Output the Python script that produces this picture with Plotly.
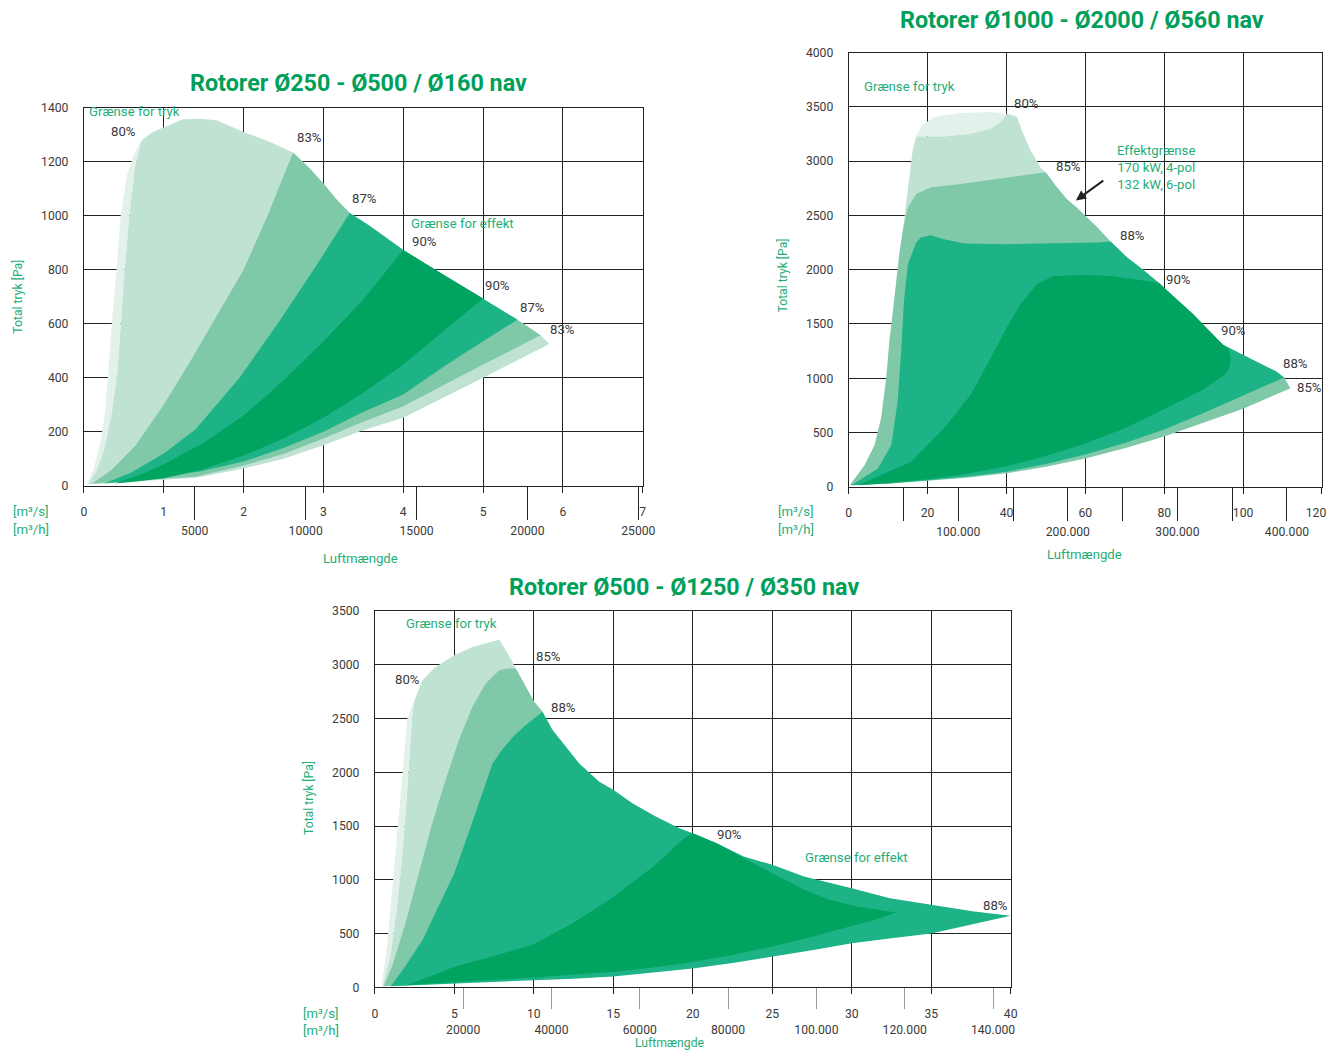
import plotly.graph_objects as go

W, H = 1338, 1059
# measured mapping of page pixels onto the photographed picture (scale, offset); positions below are
# given in picture pixels and converted back to page pixels
SX, BX = 0.986, 2.1
SY, BY = 0.986, 6.5
FS = 1.0 / 0.986

# ---------------- colours ----------------
COL_A = "#e2f1ea"
COL_B = "#c0e2d2"
COL_C = "#7fc9a8"
COL_D = "#1db386"
COL_E = "#00a360"
GREEN_T = "#00a05a"
GREEN_L = "#1fae78"
GRID = "#222222"
TXT = "#3a3a3a"

# ================= Chart 1 : Rotorer Ø250 - Ø500 / Ø160 nav  (x m3/s, y Pa) =================
c1_env_x = [2.62, 2.83, 3.0, 3.17, 3.33, 3.59, 4.0, 4.23, 4.54, 5.0, 5.43, 5.72, 5.83]
c1_env_y = [1234, 1175, 1119, 1058, 1010, 960, 873, 830, 775, 693, 615, 557, 525]

c1_A_left_x = [0.03, 0.12, 0.20, 0.26, 0.30, 0.35, 0.41, 0.46, 0.54, 0.62, 0.72, 0.85]
c1_A_left_y = [4, 60, 150, 260, 400, 600, 800, 1000, 1150, 1220, 1280, 1308]

c1_B_left_x = [0.05, 0.15, 0.25, 0.35, 0.42, 0.46, 0.51, 0.57, 0.64, 0.72, 0.85]
c1_B_left_y = [6, 50, 130, 270, 420, 600, 800, 1000, 1180, 1275, 1308]
c1_B_top_x = [1.01, 1.24, 1.45, 1.66, 2.0, 2.33]
c1_B_top_y = [1328, 1357, 1359, 1353, 1310, 1273]
c1_B_low_x = [5.0, 4.0, 3.47, 3.0, 2.5, 2.0, 1.41]
c1_B_low_y = [400, 252, 203, 150, 100, 64, 30]

c1_C_ul_x = [0.10, 0.35, 0.65, 1.0, 1.35, 1.65, 2.0, 2.3]
c1_C_ul_y = [8, 60, 150, 300, 470, 620, 800, 1000]
c1_C_low_x = [5.0, 4.0, 3.47, 3.0, 2.5, 2.0, 1.41]
c1_C_low_y = [449, 295, 234, 175, 118, 75, 35]

c1_D_ul_x = [0.25, 0.6, 1.0, 1.4, 1.95, 2.45, 2.9]
c1_D_ul_y = [8, 50, 120, 210, 400, 610, 810]
c1_D_low_x = [5.0, 4.5, 4.0, 3.47, 3.0, 2.5, 2.0, 1.45]
c1_D_low_y = [535, 440, 338, 270, 200, 140, 90, 53]

c1_E_ul_x = [0.38, 0.7, 1.0, 1.5, 2.0, 2.5, 3.0, 3.47]
c1_E_ul_y = [9, 40, 80, 160, 260, 390, 535, 680]
c1_E_low_x = [4.5, 4.0, 3.5, 3.0, 2.5, 2.0, 1.45, 1.0, 0.6]
c1_E_low_y = [570, 449, 345, 252, 175, 112, 58, 28, 14]

c1_xticks = [0, 1, 2, 3, 4, 5, 6, 7]
c1_hticks = [5000, 10000, 15000, 20000, 25000]
c1_hlabels = ["5000", "10000", "15000", "20000", "25000"]

# ================= Chart 2 : Rotorer Ø1000 - Ø2000 / Ø560 nav =================
c2_env_x = [40.2, 42.7, 43.9, 46.1, 48.6, 50.3, 52.8, 55.3, 57.8, 60, 63.1, 66.4, 70.6, 74, 78.6,
            83.2, 87.4, 91.5, 94.9, 97.4, 99.9, 104.1, 108.3, 110.4, 112]
c2_env_y = [3437, 3406, 3283, 3098, 2944, 2882, 2759, 2651, 2574, 2497, 2389, 2260, 2112, 2019, 1880,
            1726, 1588, 1433, 1310, 1264, 1218, 1141, 1064, 1008, 909]

c2_A_top_x = [17.1, 18.5, 21.7, 28.4, 36, 40.2]
c2_A_top_y = [3227, 3330, 3406, 3443, 3452, 3437]

c2_B_left_x = [13.5, 15, 16.2, 17.1]
c2_B_left_y = [2300, 2728, 3098, 3227]
c2_B_top_x = [24.2, 30.9, 36, 38.5]
c2_B_top_y = [3227, 3252, 3298, 3360]
c2_B_low_x = [50.3]
c2_B_low_y = [2300]

c2_C_left_x = [0.25, 4.0, 6.55, 8.2, 9.5, 10.3, 11.2, 12.0, 12.9, 13.7, 15.0, 17.1, 20.8, 28.4, 40, 49.8]
c2_C_left_y = [15, 200, 385, 632, 1002, 1341, 1618, 1865, 2173, 2358, 2574, 2697, 2759, 2790, 2852, 2898]
c2_C_low_x = [100, 90, 80, 70, 60, 50, 40, 30, 20, 10]
c2_C_low_y = [720, 590, 464, 355, 261, 185, 125, 85, 55, 30]

c2_D_left_x = [0.7, 7.4, 10.8, 12.4, 13.3, 14.0, 15.0, 17.1, 18.3, 20.8, 24.2, 29.2, 40, 49.4, 59.5, 63.1]
c2_D_left_y = [15, 170, 385, 786, 1248, 1711, 2050, 2250, 2297, 2318, 2281, 2241, 2235, 2241, 2241, 2250]
c2_D_low_x = [100, 90, 80, 70, 60, 50, 40, 30, 20, 10]
c2_D_low_y = [840, 680, 529, 405, 298, 210, 140, 95, 62, 32]

c2_E_ul_x = [2.4, 15.8, 24.2, 30.9, 35.1, 40, 43.5, 47.7, 51.9, 57.8, 60, 66.4, 74.8]
c2_E_ul_y = [15, 231, 540, 848, 1125, 1464, 1680, 1865, 1942, 1951, 1951, 1942, 1896]
c2_E_tip_x = [96.3, 96.9, 96.5, 95.5]
c2_E_tip_y = [1270, 1180, 1090, 1040]
c2_E_low_x = [90, 80, 70, 60, 50, 40, 30, 20, 10]
c2_E_low_y = [900, 715, 540, 400, 285, 190, 120, 70, 35]

c2_xticks = [0, 20, 40, 60, 80, 100, 120]
c2_xlabels = ["0", "20", "40", "60", "80", "100", "120\u00a0\u00a0\u00a0\u00a0"]
c2_hticks = [100000, 200000, 300000, 400000]
c2_hlabels = ["100.000", "200.000", "300.000", "400.000"]
c2_hticks_minor = [50000, 150000, 250000, 350000]

# ================= Chart 3 : Rotorer Ø500 - Ø1250 / Ø350 nav =================
c3_env_x = [7.82, 8.3, 8.87, 9.5, 10.0, 10.55, 11.18, 12.02, 12.86, 14.12, 15.02, 16.2, 17.7, 19.16,
            20.0, 21.5, 23.2, 25.0, 27.0, 30.0, 32.4, 35.0, 37.7, 40.0]
c3_env_y = [3233, 3120, 2964, 2790, 2660, 2562, 2392, 2237, 2082, 1912, 1835, 1711, 1587, 1479,
            1432, 1340, 1216, 1139, 1030, 922, 829, 767, 705, 665]

c3_A_left_x = [0.42, 0.7, 1.0, 1.3, 1.6, 1.85, 2.05, 2.46]
c3_A_left_y = [9, 300, 750, 1250, 1750, 2200, 2500, 2655]
c3_B_left_x = [0.5, 1.0, 1.4, 1.75, 2.0, 2.2, 2.35, 2.46]
c3_B_left_y = [9, 300, 750, 1250, 1750, 2200, 2500, 2655]
c3_B_top_x = [2.98, 3.82, 5.0, 6.13]
c3_B_top_y = [2856, 2980, 3088, 3165]
c3_BC_low_x = [5.0]
c3_BC_low_y = [40]

c3_C_left_x = [0.55, 1.09, 1.93, 2.77, 3.61, 4.45, 5.29, 6.13, 6.97, 7.82, 8.34]
c3_C_left_y = [9, 195, 597, 1061, 1525, 1928, 2299, 2608, 2825, 2949, 2964]

c3_D_ul_x = [1.0, 1.9, 3.0, 4.0, 5.0, 6.1, 6.8, 7.4, 8.0, 8.7, 9.5]
c3_D_ul_y = [9, 190, 440, 750, 1060, 1520, 1830, 2080, 2210, 2330, 2440]
c3_D_low_x = [37.5, 35, 32.5, 30, 27.5, 25, 22.5, 20, 17.5, 15, 12.5, 10, 7.5, 5, 2.5]
c3_D_low_y = [580, 500, 455, 410, 345, 285, 225, 175, 135, 100, 80, 65, 50, 35, 20]

c3_E_ul_x = [2.0, 3.5, 5.0, 7.5, 10, 12.5, 15, 17.5, 19.5]
c3_E_ul_y = [20, 100, 190, 290, 400, 600, 840, 1120, 1390]
c3_E_top_x = [21.9, 23.4, 25, 27, 28.6, 30.3, 32.8]
c3_E_top_y = [1309, 1185, 1061, 907, 814, 752, 696]
c3_E_low_x = [31.5, 30, 27.5, 25, 22.5, 20, 17.5, 15, 12.5, 10, 7.5, 5, 3]
c3_E_low_y = [630, 570, 470, 380, 300, 235, 185, 145, 115, 90, 70, 50, 30]

c3_xticks = [0, 5, 10, 15, 20, 25, 30, 35, 40]
c3_hticks = [20000, 40000, 60000, 80000, 100000, 120000, 140000]
c3_hlabels = ["20000", "40000", "60000", "80000", "100.000", "120.000", "140.000"]

# ---------------- build polygons ----------------
def rev(a):
    return list(reversed(a))

regions = {
    "x": [
        (COL_A, c1_A_left_x + rev(c1_B_left_x), c1_A_left_y + rev(c1_B_left_y)),
        (COL_B, c1_B_left_x + c1_B_top_x + c1_env_x + c1_B_low_x,
                c1_B_left_y + c1_B_top_y + c1_env_y + c1_B_low_y),
        (COL_C, c1_C_ul_x + c1_env_x[:12] + c1_C_low_x, c1_C_ul_y + c1_env_y[:12] + c1_C_low_y),
        (COL_D, c1_D_ul_x + c1_env_x[4:11] + c1_D_low_x, c1_D_ul_y + c1_env_y[4:11] + c1_D_low_y),
        (COL_E, c1_E_ul_x + c1_env_x[6:10] + c1_E_low_x, c1_E_ul_y + c1_env_y[6:10] + c1_E_low_y),
    ],
    "x2": [
        (COL_A, c2_A_top_x + rev(c2_B_top_x), c2_A_top_y + rev(c2_B_top_y)),
        (COL_B, c2_B_left_x + c2_B_top_x + c2_env_x[:6] + c2_B_low_x,
                c2_B_left_y + c2_B_top_y + c2_env_y[:6] + c2_B_low_y),
        (COL_C, c2_C_left_x + c2_env_x[5:] + c2_C_low_x, c2_C_left_y + c2_env_y[5:] + c2_C_low_y),
        (COL_D, c2_D_left_x + c2_env_x[11:24] + c2_D_low_x, c2_D_left_y + c2_env_y[11:24] + c2_D_low_y),
        (COL_E, c2_E_ul_x + c2_env_x[14:19] + c2_E_tip_x + c2_E_low_x,
                c2_E_ul_y + c2_env_y[14:19] + c2_E_tip_y + c2_E_low_y),
    ],
    "x3": [
        (COL_A, c3_A_left_x + rev(c3_B_left_x), c3_A_left_y + rev(c3_B_left_y)),
        (COL_B, c3_B_left_x + c3_B_top_x + c3_env_x[:6] + c3_BC_low_x,
                c3_B_left_y + c3_B_top_y + c3_env_y[:6] + c3_BC_low_y),
        (COL_C, c3_C_left_x + c3_env_x[2:6] + c3_BC_low_x, c3_C_left_y + c3_env_y[2:6] + c3_BC_low_y),
        (COL_D, c3_D_ul_x + c3_env_x[5:] + c3_D_low_x, c3_D_ul_y + c3_env_y[5:] + c3_D_low_y),
        (COL_E, c3_E_ul_x + c3_env_x[14:16] + c3_E_top_x + c3_E_low_x,
                c3_E_ul_y + c3_env_y[14:16] + c3_E_top_y + c3_E_low_y),
    ],
}
yref_of = {"x": "y", "x2": "y2", "x3": "y3"}

fig = go.Figure()
for xa, polys in regions.items():
    for col, px_, py_ in polys:
        fig.add_trace(go.Scatter(x=px_, y=py_, xaxis=xa, yaxis=yref_of[xa], mode="lines",
                                 fill="toself", fillcolor=col, line=dict(width=0, color=col),
                                 hoverinfo="skip", showlegend=False))
# empty traces so the m3/h axes exist
for xa, ya in (("x4", "y"), ("x5", "y2"), ("x6", "y3")):
    fig.add_trace(go.Scatter(x=[], y=[], xaxis=xa, yaxis=ya, showlegend=False, hoverinfo="skip"))

FONT = "Roboto, 'DejaVu Sans', sans-serif"


def fx(s):
    return min(max(((s - BX) / SX) / W, 0.0), 1.0)


def fy(s):
    return min(max(1 - ((s - BY) / SY) / H, 0.0), 1.0)


def fs(v):
    return round(v * FS, 2)


def xax(dom, rng, tickvals, ticktext=None):
    d = dict(domain=[fx(dom[0]), fx(dom[1])], range=rng, tickvals=tickvals, ticks="outside",
             ticklen=6, tickcolor=GRID, tickwidth=1, showgrid=True, gridcolor=GRID, gridwidth=1,
             showline=True, linecolor=GRID, linewidth=1, mirror=True, zeroline=False,
             layer="above traces", tickfont=dict(size=fs(12), color=TXT, family=FONT),
             ticklabelstandoff=9, ticklabeloverflow="allow", fixedrange=True)
    if ticktext:
        d["ticktext"] = ticktext
    return d


def yax(dom, rng, dt):
    return dict(domain=[fy(dom[1]), fy(dom[0])], range=rng, dtick=dt, tick0=0, ticks="",
                showgrid=True, gridcolor=GRID, gridwidth=1, showline=True, linecolor=GRID,
                linewidth=1, mirror=True, zeroline=False, layer="above traces",
                tickfont=dict(size=fs(12), color=TXT, family=FONT), ticklabelstandoff=12,
                fixedrange=True)


def hax(over, anchor, rng, tv, tt, tcol, minor_vals=None, tlen=33, stand=1):
    d = dict(overlaying=over, anchor=anchor, side="bottom", range=rng, tickvals=tv, ticktext=tt,
             ticks="outside", ticklen=tlen, tickcolor=tcol, tickwidth=1, showgrid=False,
             showline=False, zeroline=False, tickfont=dict(size=fs(12), color=TXT, family=FONT),
             ticklabelstandoff=stand, ticklabeloverflow="allow", fixedrange=True)
    if minor_vals:
        d["minor"] = dict(tickvals=minor_vals, ticks="outside", ticklen=tlen, tickcolor=tcol,
                          tickwidth=1, showgrid=False)
    return d


fig.update_layout(
    width=W, height=H, margin=dict(l=0, r=0, t=0, b=0),
    paper_bgcolor="white", plot_bgcolor="rgba(0,0,0,0)", showlegend=False,
    font=dict(family=FONT, color=TXT),
    xaxis=dict(xax((83, 642), [0, 7], c1_xticks), anchor="y"),
    yaxis=dict(yax((107, 485), [0, 1400], 200), anchor="x"),
    xaxis2=dict(xax((848, 1327), [0, 120], c2_xticks, c2_xlabels), anchor="y2"),
    yaxis2=dict(yax((52, 486), [0, 4000], 500), anchor="x2"),
    xaxis3=dict(xax((374, 1010), [0, 40], c3_xticks), anchor="y3"),
    yaxis3=dict(yax((610, 986), [0, 3500], 500), anchor="x3"),
    xaxis4=hax("x", "y", [0, 7 * 3600], c1_hticks, c1_hlabels, GRID),
    xaxis5=hax("x2", "y2", [0, 120 * 3600], c2_hticks, c2_hlabels, GRID, c2_hticks_minor),
    xaxis6=hax("x3", "y3", [0, 40 * 3600], c3_hticks, c3_hlabels, "#9a9a9a", tlen=21, stand=10),
)

ann = []


def paper_text(text, px, py, size, color, bold=False, xanchor="center", angle=0, yanchor="middle"):
    ann.append(dict(text=f"<b>{text}</b>" if bold else text, x=fx(px), y=fy(py), xref="paper",
                    yref="paper", showarrow=False, xanchor=xanchor, yanchor=yanchor,
                    textangle=angle, font=dict(size=fs(size), color=color, family=FONT)))


def data_text(text, xa, x, y, color=TXT, size=13, xanchor="center"):
    ann.append(dict(text=text, x=x, y=y, xref=xa, yref=yref_of[xa], showarrow=False,
                    xanchor=xanchor, yanchor="middle",
                    font=dict(size=fs(size), color=color, family=FONT)))


# titles
paper_text("Rotorer Ø250 - Ø500 / Ø160 nav", 358, 82, 23, GREEN_T, bold=True)
paper_text("Rotorer Ø1000 - Ø2000 / Ø560 nav", 1081, 19, 23, GREEN_T, bold=True)
paper_text("Rotorer Ø500 - Ø1250 / Ø350 nav", 683, 586, 23, GREEN_T, bold=True)
# axis titles
for (px_, py_) in ((17, 296), (782, 275), (308, 797)):
    paper_text("Total tryk [Pa]", px_, py_, 12, GREEN_L, angle=-90)
paper_text("Luftmængde", 360, 558, 13, GREEN_L)
paper_text("Luftmængde", 1084, 554, 13, GREEN_L)
paper_text("Luftmængde", 669, 1060, 12, GREEN_L, yanchor="bottom")
for (px_, py1, py2) in ((10, 511, 529), (775, 511, 529), (300, 1012, 1029)):
    paper_text("[m³/s]", px_, py1, 13, GREEN_L, xanchor="left")
    paper_text("[m³/h]", px_, py2, 13, GREEN_L, xanchor="left")

# chart 1 labels
data_text("Grænse for tryk", "x", 0.04, 1385, GREEN_L, xanchor="left")
for t, x, y in (("80%", 0.49, 1311), ("83%", 2.83, 1289), ("87%", 3.52, 1063), ("90%", 4.26, 904),
                ("90%", 5.18, 741), ("87%", 5.62, 659), ("83%", 5.99, 578)):
    data_text(t, "x", x, y)
data_text("Grænse for effekt", "x", 4.07, 970, GREEN_L, xanchor="left")

# chart 2 labels
data_text("Grænse for tryk", "x2", 3.3, 3687, GREEN_L, xanchor="left")
for t, x, y in (("80%", 45.1, 3530), ("85%", 55.6, 2949), ("88%", 71.9, 2313), ("90%", 83.5, 1908),
                ("90%", 97.5, 1438), ("88%", 113.3, 1134), ("85%", 116.8, 912)):
    data_text(t, "x2", x, y)
data_text("Effektgrænse<br>170 kW, 4-pol<br>132 kW, 6-pol", "x2", 67.4, 2940, GREEN_L, xanchor="left")
ann.append(dict(x=57.6, y=2638, ax=65.3, ay=2840, xref="x2", yref="y2", axref="x2", ayref="y2",
                text=" ", showarrow=True, arrowhead=2, arrowsize=1, arrowwidth=2, arrowcolor="#222"))

# chart 3 labels
data_text("Grænse for tryk", "x3", 1.82, 3379, GREEN_L, xanchor="left")
for t, x, y in (("80%", 2.08, 2867), ("85%", 10.94, 3081), ("88%", 11.89, 2606), ("90%", 22.33, 1424),
                ("88%", 39.06, 763)):
    data_text(t, "x3", x, y)
data_text("Grænse for effekt", "x3", 26.92, 1210, GREEN_L, xanchor="left")

fig.update_layout(annotations=ann)
fig.write_html("out.html", config={"displayModeBar": False},
               post_script="document.body.style.margin='0';document.body.style.padding='0';"
                           "document.body.style.overflow='hidden';")
